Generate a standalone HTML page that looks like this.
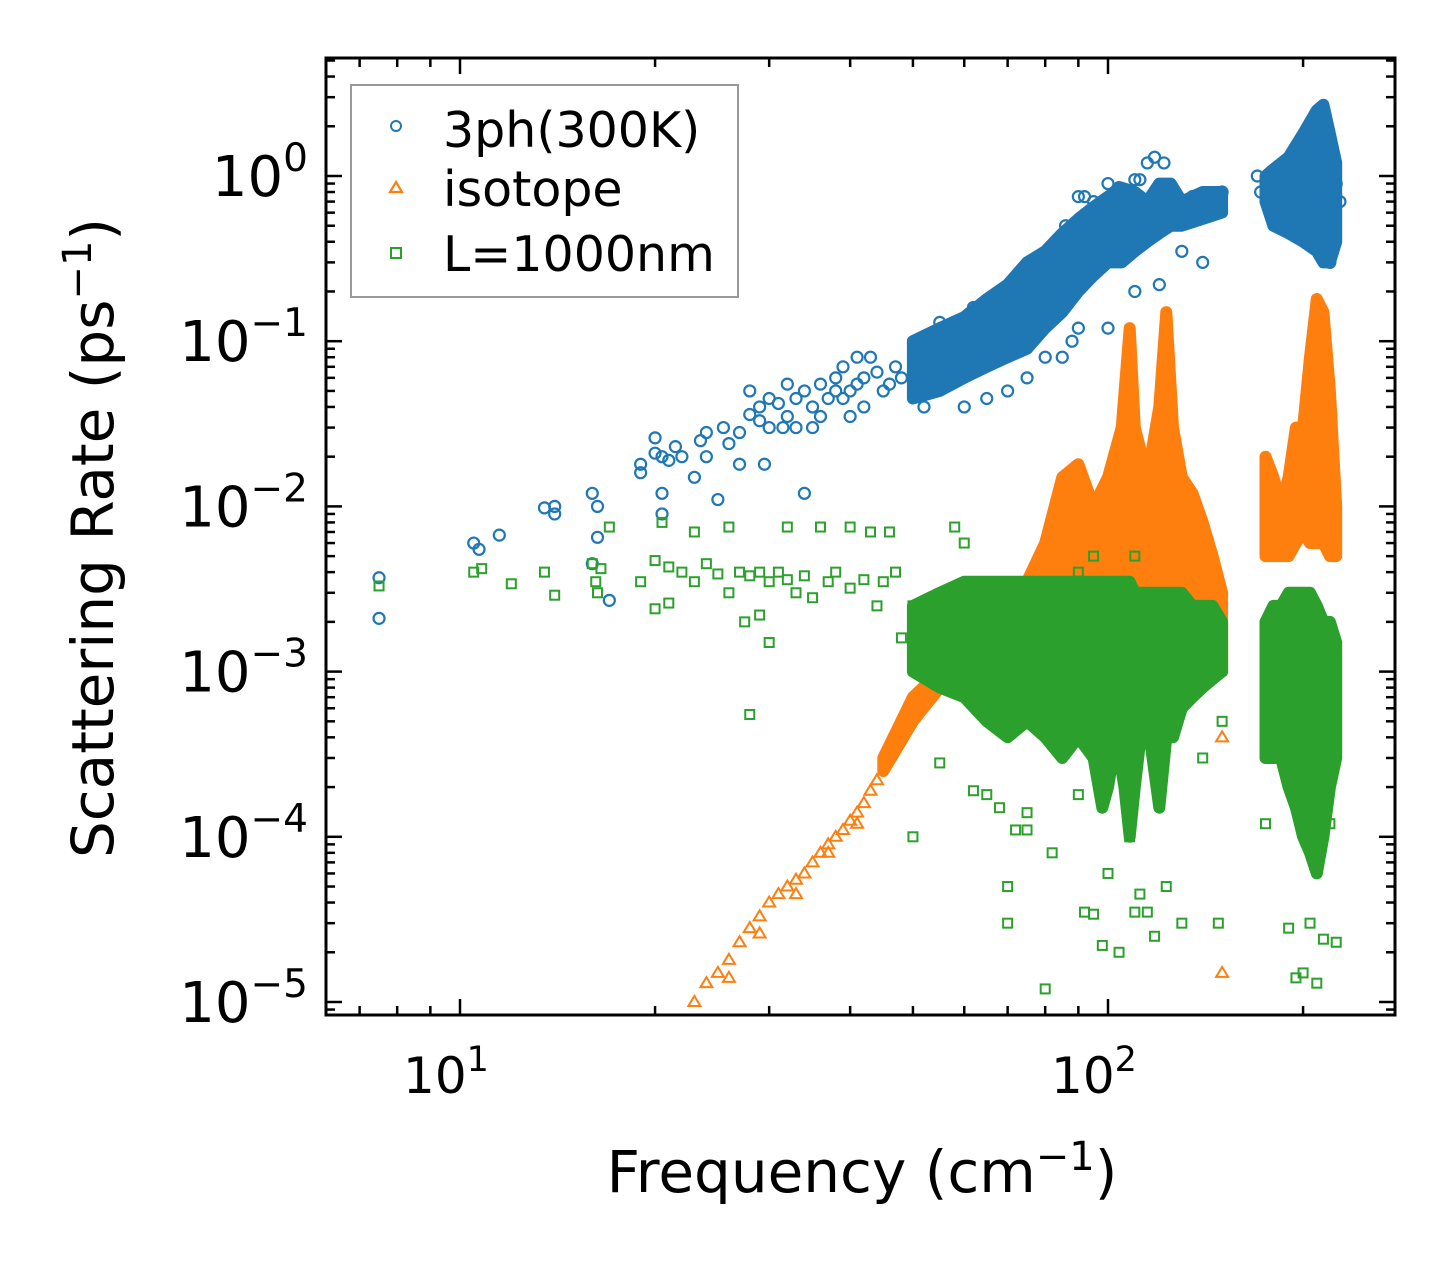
<!DOCTYPE html>
<html><head><meta charset="utf-8"><style>
html,body{margin:0;padding:0;background:#fff}
svg{display:block;font-family:"DejaVu Sans","Liberation Sans",sans-serif}
</style></head><body>
<svg id="chart" width="1455" height="1265" viewBox="0 0 1455 1265" xmlns="http://www.w3.org/2000/svg">
<g id="bands"></g>
<g id="marks"></g>
<g id="axes"></g>
<text x="862" y="1192" font-size="58" text-anchor="middle">Frequency (cm<tspan dy="-22" font-size="40">−1</tspan><tspan dy="22">)</tspan></text>
<text transform="translate(113,538) rotate(-90)" font-size="58" text-anchor="middle">Scattering Rate (ps<tspan dy="-22" font-size="40">−1</tspan><tspan dy="22">)</tspan></text>
<g>
<rect x="351" y="85" width="387" height="212" fill="#fff" stroke="#999" stroke-width="2"/>
<g><circle cx="396" cy="126" r="5" fill="none" stroke="#1f77b4" stroke-width="2"/><text x="443" y="147" font-size="49">3ph(300K)</text></g>
<g><path d="M390,192 L402,192 L396,182 Z" fill="none" stroke="#ff7f0e" stroke-width="2.2"/><text x="443" y="206" font-size="49">isotope</text></g>
<g><rect x="391" y="248" width="10" height="10" fill="none" stroke="#2ca02c" stroke-width="2"/><text x="443" y="271" font-size="49">L=1000nm</text></g>
</g>
</svg>
<script>
// ---- data ----
const blueBandX=[50,55,60,65,70,75,80,85,90,95,100,105,110,115,120,125,130,140,150];
const blueBandLo=[0.045,0.05,0.06,0.07,0.08,0.09,0.12,0.15,0.2,0.25,0.3,0.3,0.35,0.4,0.45,0.5,0.5,0.55,0.6];
const blueBandHi=[0.1,0.12,0.14,0.18,0.22,0.3,0.35,0.45,0.55,0.65,0.75,0.85,0.8,0.7,0.9,0.9,0.7,0.8,0.8];
const blueBand2X=[175,180,190,200,210,215,220,225];
const blueBand2Lo=[0.7,0.5,0.45,0.4,0.35,0.3,0.3,0.4];
const blueBand2Hi=[1.0,1.1,1.3,1.8,2.5,2.7,1.8,1.2];
const orangeBandX=[45,50,55,60,65,70,75,80,85,90,95,100,105,108,110,115,120,123,126,130,135,140,145,150];
const orangeBandLo=[2.5e-4,5e-4,8e-4,1e-3,1.1e-3,1.2e-3,1.3e-3,1.5e-3,2e-3,2.5e-3,3e-3,2.5e-3,3e-3,3e-3,3e-3,3e-3,3e-3,3e-3,3e-3,3e-3,2.5e-3,2e-3,1.5e-3,1e-3];
const orangeBandHi=[3e-4,7e-4,1e-3,1.5e-3,2e-3,2.5e-3,3.5e-3,6e-3,1.5e-2,1.8e-2,1e-2,1.5e-2,3e-2,0.12,0.03,0.015,0.04,0.15,0.03,0.015,0.012,0.008,0.005,0.003];
const orangeBand2X=[175,180,185,190,195,200,205,210,215,220,225];
const orangeBand2Lo=[0.005,0.005,0.005,0.005,0.006,0.007,0.006,0.006,0.006,0.005,0.005];
const orangeBand2Hi=[0.02,0.015,0.01,0.015,0.03,0.03,0.08,0.18,0.15,0.05,0.01];
const greenBandX=[50,55,60,65,70,75,80,85,90,95,98,100,103,106,108,110,113,116,120,123,126,130,135,140,145,150];
const greenBandLo=[1e-3,8e-4,7e-4,5e-4,4e-4,5e-4,4e-4,3e-4,4e-4,3e-4,1.5e-4,2e-4,4e-4,2e-4,1e-4,2e-4,5e-4,4e-4,1.5e-4,4e-4,4e-4,6e-4,7e-4,8e-4,9e-4,1e-3];
const greenBandHi=[2.5e-3,3e-3,3.5e-3,3.5e-3,3.5e-3,3.5e-3,3.5e-3,3.5e-3,3.5e-3,3.5e-3,3.5e-3,3.5e-3,3.5e-3,3.5e-3,3.5e-3,3e-3,3e-3,3e-3,3e-3,3e-3,3e-3,3e-3,2.5e-3,2.5e-3,2.5e-3,2e-3];
const greenBand2X=[175,180,185,190,195,200,205,210,215,220,225];
const greenBand2Lo=[3e-4,3e-4,3e-4,2e-4,1.5e-4,1e-4,8e-5,6e-5,1e-4,2e-4,3e-4];
const greenBand2Hi=[2e-3,2.5e-3,2.5e-3,3e-3,3e-3,3e-3,3e-3,2.5e-3,2e-3,2e-3,1.5e-3];

const blueX=[7.5,7.5,10.5,10.7,11.5,13.5,14,14,16,16,16.3,16.3,17,19,19,20,20,20.5,20.5,20.5,21,21.5,22,23,23.5,24,24,25,25.5,26,27,27,28,28,29,29,29.5,30,30,31,31.5,32,32,33,33,34,34,35,35,36,36,37,38,38,39,39,40,40,41,41,42,42,43,44,45,46,47,48,52,60,65,70,75,80,85,88,90,100,110,120,130,140,90,95,100,110,115,118,122,150,148,170,172,225,228,220,55,62,68,78,86,92,104,112,126,135];
const blueY=[0.0037,0.0021,0.006,0.0055,0.0067,0.0098,0.01,0.009,0.012,0.0045,0.0065,0.01,0.0027,0.018,0.016,0.026,0.021,0.02,0.009,0.012,0.019,0.023,0.02,0.015,0.025,0.028,0.02,0.011,0.03,0.024,0.028,0.018,0.05,0.036,0.04,0.033,0.018,0.045,0.03,0.042,0.03,0.055,0.035,0.045,0.03,0.05,0.012,0.04,0.03,0.055,0.035,0.045,0.06,0.05,0.07,0.045,0.05,0.035,0.08,0.055,0.06,0.04,0.08,0.065,0.05,0.055,0.07,0.06,0.04,0.04,0.045,0.05,0.06,0.08,0.08,0.1,0.12,0.12,0.2,0.22,0.35,0.3,0.75,0.7,0.9,0.95,1.2,1.3,1.2,0.8,0.65,1.0,0.8,0.9,0.7,0.3,0.13,0.16,0.2,0.3,0.5,0.75,0.85,0.95,0.65,0.75];
const orangeX=[23,24,25,26,27,28,29,30,31,32,33,34,35,36,37,38,39,40,41,42,43,44,26,29,33,37,41,150,150];
const orangeY=[1e-5,1.3e-5,1.5e-5,1.8e-5,2.3e-5,2.8e-5,3.3e-5,4e-5,4.5e-5,5e-5,5.5e-5,6e-5,7e-5,8e-5,9e-5,1e-4,1.1e-4,1.25e-4,1.4e-4,1.6e-4,1.9e-4,2.2e-4,1.4e-5,2.6e-5,4.5e-5,8e-5,1.2e-4,4e-4,1.5e-5];
const greenX=[7.5,10.5,10.8,12,13.5,14,16,16.2,16.5,16.3,17,19,20,20,20.5,21,21,22,23,23,24,25,26,26,27,27.5,28,28,29,29,30,30,31,32,32,33,34,35,36,37,38,40,40,42,43,44,45,46,47,48,50,50,55,58,60,62,65,68,70,70,72,75,75,80,82,90,92,95,98,100,104,108,110,112,115,118,123,130,140,148,150,175,190,195,200,205,210,215,220,225,90,95,110];
const greenY=[3.3e-3,4e-3,4.2e-3,3.4e-3,4e-3,2.9e-3,4.5e-3,3.5e-3,4.2e-3,3e-3,7.5e-3,3.5e-3,4.7e-3,2.4e-3,8e-3,4.3e-3,2.6e-3,4e-3,7e-3,3.5e-3,4.5e-3,3.9e-3,7.5e-3,3e-3,4e-3,2e-3,3.8e-3,5.5e-4,4e-3,2.2e-3,3.5e-3,1.5e-3,4e-3,3.6e-3,7.5e-3,3e-3,3.8e-3,2.8e-3,7.5e-3,3.5e-3,4e-3,3.2e-3,7.5e-3,3.6e-3,7e-3,2.5e-3,3.5e-3,7e-3,4e-3,1.6e-3,2.5e-3,1e-4,2.8e-4,7.5e-3,6e-3,1.9e-4,1.8e-4,1.5e-4,5e-5,3e-5,1.1e-4,1.4e-4,1.1e-4,1.2e-5,8e-5,1.8e-4,3.5e-5,3.4e-5,2.2e-5,6e-5,2e-5,1e-4,3.5e-5,4.5e-5,3.5e-5,2.5e-5,5e-5,3e-5,3e-4,3e-5,5e-4,1.2e-4,2.8e-5,1.4e-5,1.5e-5,3e-5,1.3e-5,2.4e-5,1.2e-4,2.3e-5,4e-3,5e-3,5e-3];

const xTickVals=[10,100], xTickLabels=["1","2"];
const yTickVals=[1,0.1,0.01,0.001,1e-4,1e-5], yTickLabels=["0","−1","−2","−3","−4","−5"];

// ---- axes ----
const L=326,R=1395,T=58,B=1015;
const xDec=648, yDec=165.2;
function sx(v){return 460+(Math.log10(v)-1)*xDec;}
function sy(v){return 176-Math.log10(v)*yDec;}
const NS="http://www.w3.org/2000/svg";
function mk(tag,attrs,parent){const e=document.createElementNS(NS,tag);for(const k in attrs)e.setAttribute(k,attrs[k]);parent.appendChild(e);return e;}
const bands=document.getElementById('bands'), marks=document.getElementById('marks'), axes=document.getElementById('axes');
const C={b:"#1f77b4",o:"#ff7f0e",g:"#2ca02c"};

function band(xs,lo,hi,col,name){
  let d="M"+xs.map((x,i)=>sx(x).toFixed(1)+","+sy(hi[i]).toFixed(1)).join(" L");
  for(let i=xs.length-1;i>=0;i--) d+=" L"+sx(xs[i]).toFixed(1)+","+sy(lo[i]).toFixed(1);
  d+=" Z";
  const p=mk('path',{d:d,fill:col,stroke:col,'stroke-width':12,'stroke-linejoin':'round'},bands);
  
  
}
function pts(xs,ys,col,shape,name){
  const g=mk('g',{},marks);
  
  
  xs.forEach((x,i)=>{
    const cx=sx(x), cy=sy(ys[i]);
    let e;
    if(shape==='c') e=mk('circle',{cx:cx,cy:cy,r:5.5,fill:'none',stroke:col,'stroke-width':2.2},g);
    else if(shape==='t') e=mk('path',{d:`M${cx-6},${cy+4} L${cx+6},${cy+4} L${cx},${cy-6} Z`,fill:'none',stroke:col,'stroke-width':2},g);
    else e=mk('rect',{x:cx-4.5,y:cy-4.5,width:9,height:9,fill:'none',stroke:col,'stroke-width':2},g);
    
    
  });
}
band(blueBandX,blueBandLo,blueBandHi,C.b,'3ph-dense-region');
band(blueBand2X,blueBand2Lo,blueBand2Hi,C.b,'3ph-dense-region-high');
pts(blueX,blueY,C.b,'c','3ph-points');
band(orangeBandX,orangeBandLo,orangeBandHi,C.o,'isotope-dense-region');
band(orangeBand2X,orangeBand2Lo,orangeBand2Hi,C.o,'isotope-dense-region-high');
pts(orangeX,orangeY,C.o,'t','isotope-points');
band(greenBandX,greenBandLo,greenBandHi,C.g,'boundary-dense-region');
band(greenBand2X,greenBand2Lo,greenBand2Hi,C.g,'boundary-dense-region-high');
pts(greenX,greenY,C.g,'s','boundary-points');

// frame
const fr=mk('rect',{x:L,y:T,width:R-L,height:B-T,fill:'none',stroke:'#000','stroke-width':3},axes);


for(let dec=0;dec<=2;dec++){for(let m=1;m<=9;m++){const v=m*Math.pow(10,dec);const x=sx(v);if(x<L||x>R)continue;const len=m===1?16:9;
  mk('line',{x1:x,y1:B,x2:x,y2:B-len,stroke:'#000','stroke-width':2.5},axes);
  mk('line',{x1:x,y1:T,x2:x,y2:T+len,stroke:'#000','stroke-width':2.5},axes);}}
for(let dec=-6;dec<=0;dec++){for(let m=1;m<=9;m++){const v=m*Math.pow(10,dec);const y=sy(v);if(y<T||y>B)continue;const len=m===1?16:9;
  mk('line',{x1:L,y1:y,x2:L+len,y2:y,stroke:'#000','stroke-width':2.5},axes);
  mk('line',{x1:R,y1:y,x2:R-len,y2:y,stroke:'#000','stroke-width':2.5},axes);}}
xTickVals.forEach((v,i)=>{
  const t=mk('text',{x:sx(v)-14,y:1093,'font-size':50,'text-anchor':'middle'},axes);
  
  
  t.innerHTML='10<tspan dy="-22" font-size="35">'+xTickLabels[i]+'</tspan>';
});
yTickVals.forEach((v,i)=>{
  const t=mk('text',{x:308,y:sy(v)+20,'font-size':56,'text-anchor':'end'},axes);
  
  
  t.innerHTML='10<tspan dy="-25" font-size="39">'+yTickLabels[i]+'</tspan>';
});
</script>
</body></html>
